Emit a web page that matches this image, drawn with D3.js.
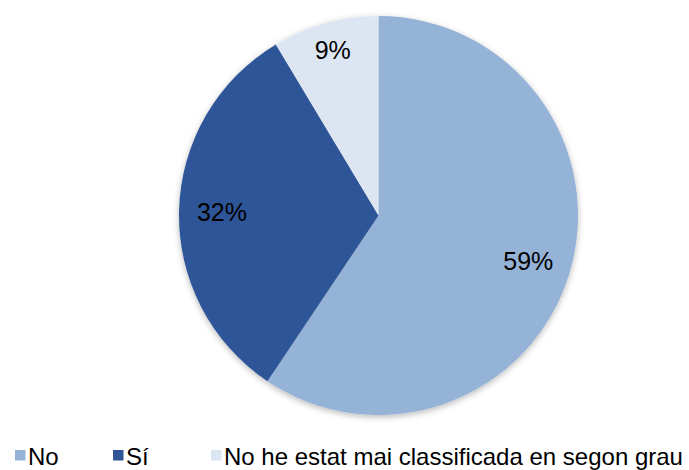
<!DOCTYPE html>
<meta charset="utf-8">
<style>
  body { margin: 0; background: #fff; }
  svg { display: block; }
  .lbl { font-family: Arial, 'Liberation Sans', sans-serif; font-size: 25px; fill: #000; }
  .legend text { font-family: Arial, 'Liberation Sans', sans-serif; font-size: 24px; fill: #000; }
</style>
<body>
<script src="https://d3js.org/d3.v7.min.js"></script>
<script>

var width = 689,
    height = 470;

// values (share of answers, %)
var categories = ["No", "Sí", "No he estat mai classificada en segon grau"];
var shares = [59.4, 32.0, 8.6];
var colors = ["#95B3D7", "#2F5597", "#DCE6F2"];

var cx = 378.5, cy = 215.5, r = 199.5;

var data = categories.map(function(c, i) { return {name: c, value: shares[i], color: colors[i]}; });

var svg = d3.select("body").append("svg")
    .attr("width", width)
    .attr("height", height);

var defs = svg.append("defs");
var f = defs.append("filter")
    .attr("id", "shadow")
    .attr("x", "-20%").attr("y", "-20%")
    .attr("width", "140%").attr("height", "140%");
f.append("feDropShadow")
    .attr("dx", 0).attr("dy", 2)
    .attr("stdDeviation", 3)
    .attr("flood-color", "#000")
    .attr("flood-opacity", 0.28);

var pie = d3.pie()
    .sort(null)
    .value(function(d) { return d.value; });

var arc = d3.arc().innerRadius(0).outerRadius(r);

var arcs = pie(data);

var g = svg.append("g")
    .attr("transform", "translate(" + cx + "," + cy + ")");

g.append("g")
    .attr("filter", "url(#shadow)")
  .selectAll("path")
    .data(arcs)
  .enter().append("path")
    .attr("d", arc)
    .attr("fill", function(d) { return d.data.color; });

// small slices get their label pushed further out, like Excel's best fit
function labelArc(d) {
  var k = (d.endAngle - d.startAngle) < 0.6 ? 0.86 : 0.785;
  return d3.arc().innerRadius(r * k).outerRadius(r * k);
}

var fs = 25;
g.append("g")
  .selectAll("text")
    .data(arcs)
  .enter().append("text")
    .attr("class", "lbl")
    .attr("text-anchor", "middle")
    .attr("x", function(d) { return labelArc(d).centroid(d)[0]; })
    .attr("y", function(d) { return labelArc(d).centroid(d)[1] + fs * 0.358; })
    .text(function(d) { return Math.round(d.data.value) + "%"; });

// legend along the bottom edge, equal-width slots like Excel
var slot = 98;
var legend = svg.append("g").attr("class", "legend");
var items = legend.selectAll("g")
    .data(data)
  .enter().append("g")
    .attr("transform", function(d, i) { return "translate(" + (15 + i * slot) + ",0)"; });

items.append("rect")
    .attr("x", 0)
    .attr("y", 450)
    .attr("width", 10.5)
    .attr("height", 10.5)
    .attr("fill", function(d) { return d.color; });

items.append("text")
    .attr("x", 13)
    .attr("y", 465)
    .text(function(d) { return d.name; });

</script>
</body>
